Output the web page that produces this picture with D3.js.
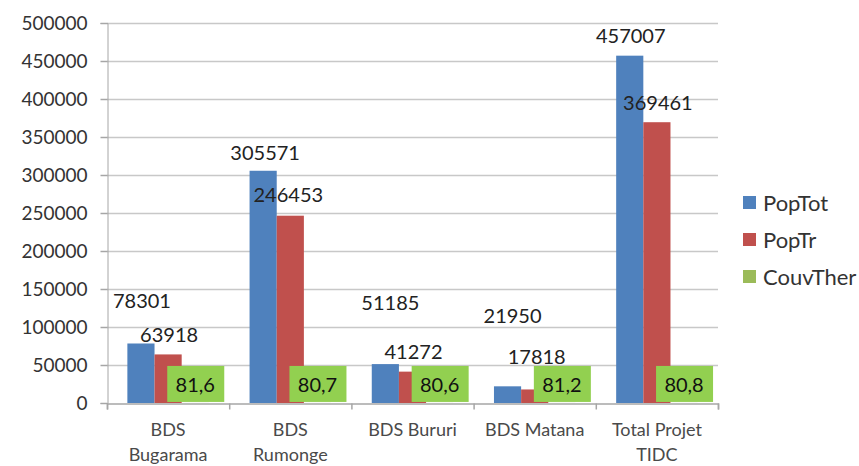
<!DOCTYPE html>
<html><head><meta charset="utf-8">
<script src="https://cdn.jsdelivr.net/npm/d3@7"></script>
<style>body{margin:0;background:#fff}svg{display:block}</style>
</head><body><svg id="c" width="859" height="466"></svg>
<script>
const categories = [["BDS","Bugarama"],["BDS","Rumonge"],["BDS Bururi"],["BDS Matana"],["Total Projet","TIDC"]];
const seriesNames = ["PopTot","PopTr","CouvTher"];
const popTot = [78301, 305571, 51185, 21950, 457007];
const popTr = [63918, 246453, 41272, 17818, 369461];
const couvTher = [81.6, 80.7, 80.6, 81.2, 80.8];
const couvLabels = ["81,6","80,7","80,6","81,2","80,8"];
const yTicks = [0,50000,100000,150000,200000,250000,300000,350000,400000,450000,500000];
// label offsets (pixels above bar top, horizontal shift)
const popTotLabelDy = [42, 18, 61, 70, 20];
const popTotLabelDx = [1, 2, 5, 5, 1];
const popTrLabelDy = [19, 21, 20, 32, 19];
const popTrLabelDx = [1, -2, 1, 2, 1];

(function(){
const colors = ["#4F81BD","#C0504D","#9BBB59"];
const font = "Lato, 'Open Sans', sans-serif";
const svg = d3.select("#c");
const pLeft = 107, pRight = 718, pTop = 23, pBottom = 403;
const y = d3.scaleLinear().domain([0,500000]).range([pBottom, pTop]);
const x = d3.scaleBand().domain(d3.range(categories.length)).range([pLeft, pRight]).padding(0);
const xs = d3.scaleBand().domain(d3.range(3)).range([0, x.bandwidth()]).paddingInner(0).paddingOuter(0.75);

svg.append("g").selectAll("line").data(yTicks.slice(1)).join("line")
  .attr("x1", pLeft).attr("x2", pRight)
  .attr("y1", d=>Math.round(y(d))+0.5).attr("y2", d=>Math.round(y(d))+0.5)
  .attr("stroke","#c8c8c8").attr("stroke-width",1.5);

const ya = svg.append("g").attr("transform",`translate(${pLeft}.5,0)`)
  .call(d3.axisLeft(y).tickValues(yTicks).tickSize(7).tickPadding(13).tickFormat(d3.format("d")));
ya.select(".domain").attr("stroke","#a6a6a6");
ya.selectAll(".tick line").attr("stroke","#a6a6a6").attr("stroke-width",1.5);
ya.selectAll("text").attr("font-family",font).attr("font-size",19).attr("fill","#333");

const xa = svg.append("g").attr("transform",`translate(0,${pBottom}.5)`)
  .call(d3.axisBottom(d3.scaleLinear().domain([0,categories.length]).range([pLeft,pRight]))
    .tickValues(d3.range(categories.length+1)).tickSize(6).tickFormat(""));
xa.select(".domain").attr("stroke","#a6a6a6").attr("stroke-width",1.5);
xa.selectAll(".tick line").attr("stroke","#a6a6a6").attr("stroke-width",1.5);

const cl = svg.append("g").selectAll("text").data(categories).join("text")
  .attr("x",(d,i)=>x(i)+x.bandwidth()/2).attr("y",436)
  .attr("text-anchor","middle").attr("font-family",font).attr("font-size",18).attr("fill","#4a4a4a");
cl.selectAll("tspan").data(d=>d).join("tspan")
  .attr("x",function(){return this.parentNode.getAttribute("x");})
  .attr("dy",(d,i)=>i===0?0:25).text(d=>d);

const series = [popTot, popTr, couvTher];
series.forEach((vals, s) => {
  svg.append("g").selectAll("rect").data(vals).join("rect")
    .attr("x",(d,i)=>x(i)+xs(s)).attr("width",xs.bandwidth())
    .attr("y",d=>y(d)).attr("height",d=>pBottom-y(d)).attr("fill",colors[s]);
});

function labels(vals, dys, dxs, s){
  svg.append("g").selectAll("text").data(vals).join("text")
    .attr("x",(d,i)=>x(i)+xs(s)+xs.bandwidth()/2+dxs[i])
    .attr("y",(d,i)=>y(d)-dys[i])
    .attr("dy","0.35em").attr("text-anchor","middle")
    .attr("font-family",font).attr("font-size",20).attr("fill","#222").text(d=>d);
}
labels(popTot, popTotLabelDy, popTotLabelDx, 0);
labels(popTr, popTrLabelDy, popTrLabelDx, 1);

const gl = svg.append("g").selectAll("g").data(couvTher).join("g")
  .attr("transform",(d,i)=>`translate(${x(i)+xs(2)+xs.bandwidth()/2},${y(d)})`);
gl.append("rect").attr("x",-28).attr("y",-37).attr("width",57).attr("height",36).attr("fill","#92D050");
gl.append("text").attr("y",-18).attr("dy","0.35em").attr("text-anchor","middle")
  .attr("font-family",font).attr("font-size",20).attr("fill","#111").text((d,i)=>couvLabels[i]);

const lg = svg.append("g").selectAll("g").data(seriesNames).join("g")
  .attr("transform",(d,i)=>`translate(743,${203+i*37})`);
lg.append("rect").attr("x",0).attr("y",-7).attr("width",13).attr("height",13).attr("fill",(d,i)=>colors[i]);
lg.append("text").attr("x",20).attr("dy","0.35em").attr("font-family",font).attr("font-size",22).attr("fill","#333").text(d=>d);
})();
</script></body></html>
